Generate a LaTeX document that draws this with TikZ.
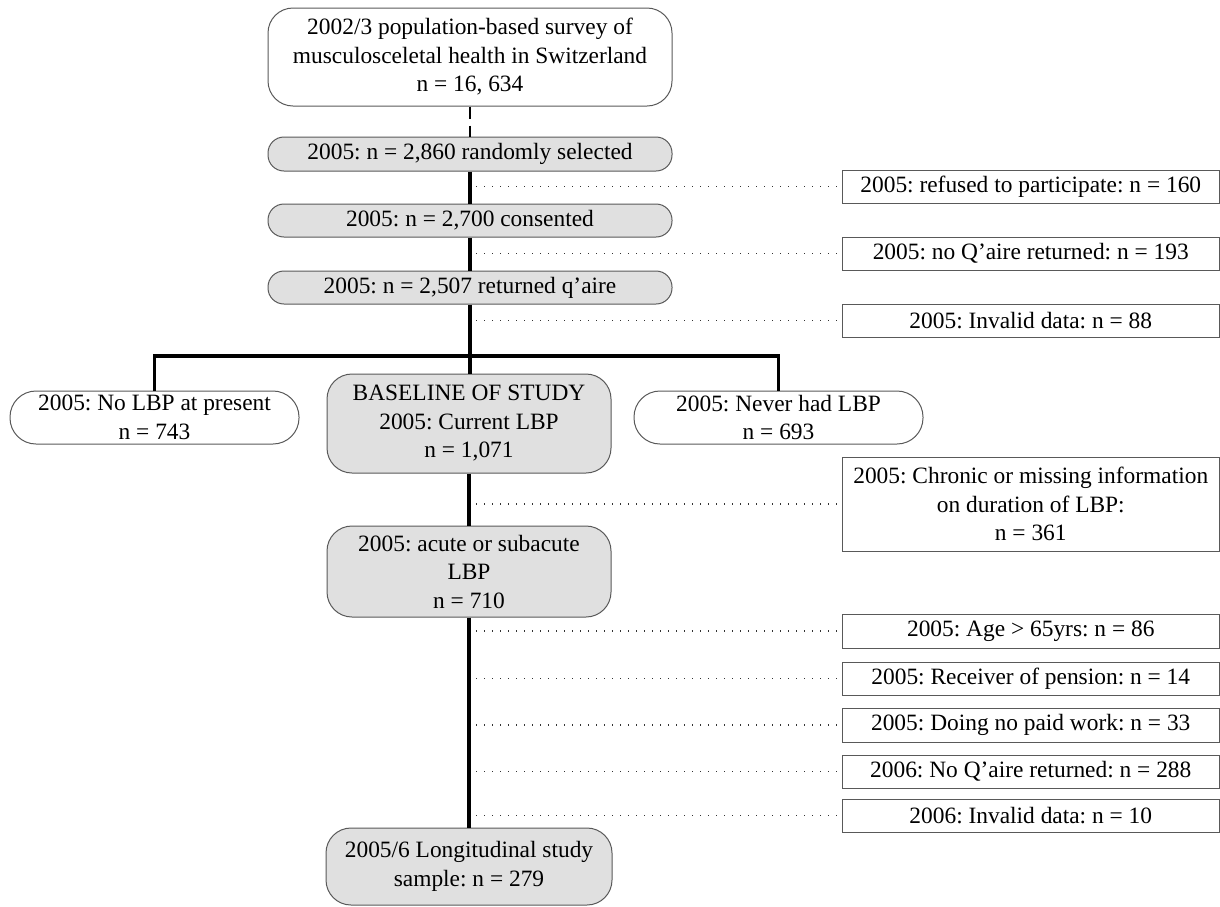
\documentclass[tikz,border=0pt]{standalone}
\usepackage{fontspec}
\setmainfont{Liberation Serif}
\frenchspacing
\begin{document}
\begin{tikzpicture}[x=1pt,y=-1pt,
  every node/.style={font=\fontsize{23.4}{28.5}\selectfont, inner sep=0pt, align=center},
  rbox/.style={draw=black!65, line width=1pt, rounded corners=#1, minimum height=1pt},
  gbox/.style={rbox=#1, fill=black!12},
  sbox/.style={draw=black!65, line width=1pt, minimum width=377.5pt},
  spine/.style={line width=3.2pt, black},
  dots/.style={black!80, line width=1.3pt, dash pattern=on 1.3pt off 6.7pt},
  dsh/.style={black, line width=1.5pt, dash pattern=on 12pt off 7pt}]
\useasboundingbox (0,0) rectangle (1220,906);
% main column
\node[rbox=25pt, minimum width=404pt, minimum height=98pt] (top) at (470,57)
  {2002/3 population-based survey of\\musculosceletal health in Switzerland\\n = 16, 634};
\node[gbox=16pt, minimum width=404pt, minimum height=34pt] (sel) at (470,154) {2005: n = 2,860 randomly selected};
\node[gbox=16pt, minimum width=404pt, minimum height=33pt] (cons) at (470,220.5) {2005: n = 2,700 consented};
\node[gbox=16pt, minimum width=404pt, minimum height=33pt] (ret) at (470,287.5) {2005: n = 2,507 returned q'aire};
\node[rbox=26pt, minimum width=289pt, minimum height=53pt] (nolbp) at (154.5,417.5) {2005: No LBP at present\\n = 743};
\node[gbox=25pt, minimum width=284pt, minimum height=99pt] (base) at (469,423.5) {BASELINE OF STUDY\\2005: Current LBP\\n = 1,071};
\node[rbox=26pt, minimum width=289pt, minimum height=53pt] (never) at (778.5,417.5) {2005: Never had LBP\\n = 693};
\node[gbox=25pt, minimum width=284pt, minimum height=91pt] (acute) at (469,571.5) {2005: acute or subacute\\LBP\\n = 710};
\node[gbox=25pt, minimum width=286pt, minimum height=77pt] (final) at (469,866.5) {2005/6 Longitudinal study\\sample: n = 279};
% exclusion boxes
\node[sbox, minimum height=33pt] (refused) at (1030.75,186.5) {2005: refused to participate: n = 160};
\node[sbox, minimum height=33pt] (noq) at (1030.75,253.5) {2005: no Q'aire returned: n = 193};
\node[sbox, minimum height=33pt] (inv) at (1030.75,320.5) {2005: Invalid data: n = 88};
\node[sbox, minimum height=94pt] (chronic) at (1030.75,504) {2005: Chronic or missing information\\on duration of LBP:\\n = 361};
\node[sbox, minimum height=34pt] (age) at (1030.75,631) {2005: Age > 65yrs: n = 86};
\node[sbox, minimum height=33pt] (recv) at (1030.75,678.5) {2005: Receiver of pension: n = 14};
\node[sbox, minimum height=34pt] (doing) at (1030.75,725) {2005: Doing no paid work: n = 33};
\node[sbox, minimum height=33pt] (noq6) at (1030.75,771.5) {2006: No Q'aire returned: n = 288};
\node[sbox, minimum height=33pt] (inv6) at (1030.75,815.5) {2006: Invalid data: n = 10};
% connectors
\coordinate (sx) at (476,0);
\coordinate (br) at (469,356);
\draw[dsh] (top.south) -- (sel.north);
\draw[spine] (sel.south) -- (cons.north);
\draw[spine] (cons.south) -- (ret.north);
\draw[spine] (ret.south) -- (ret.south |- base.north);
\draw[spine] (nolbp.north) |- (br) -| (never.north);
\draw[spine] (base.south) -- (base.south |- acute.north);
\draw[spine] (acute.south) -- (acute.south |- final.north);
\foreach \b in {refused,noq,inv,chronic,age,recv,doing,noq6,inv6}
  \draw[dots] (\b.west -| sx) -- (\b.west);
\end{tikzpicture}
\end{document}
